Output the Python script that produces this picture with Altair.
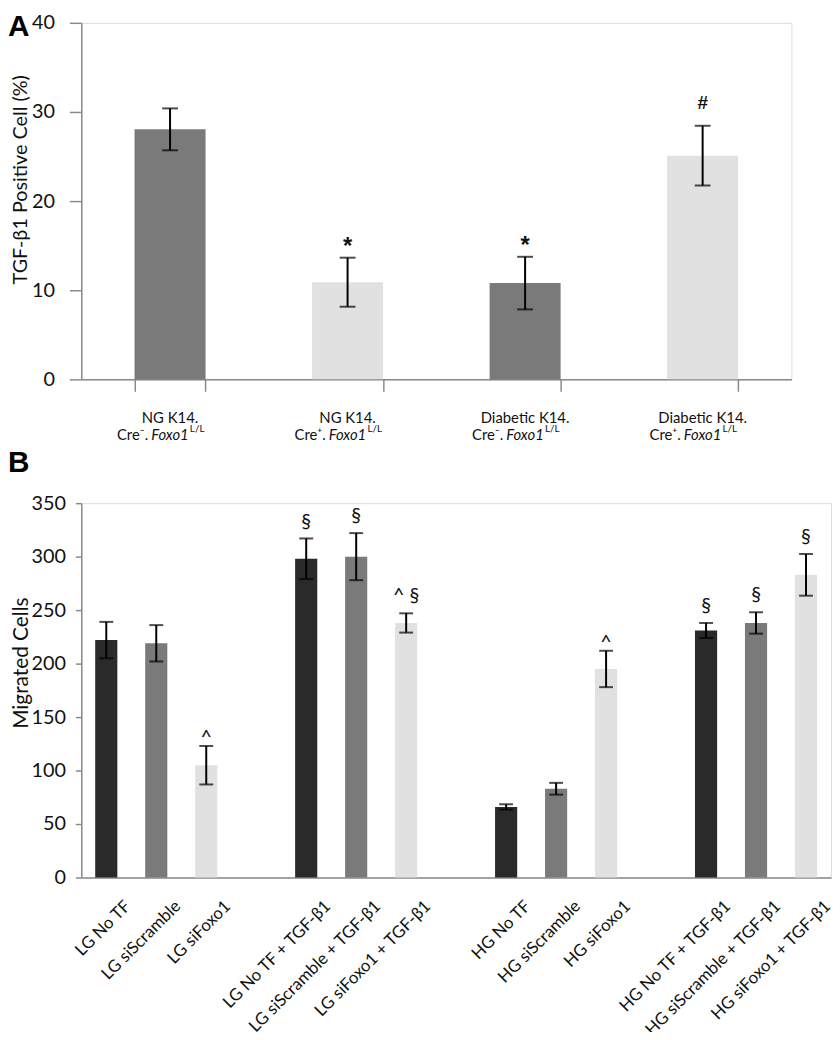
import altair as alt
import pandas as pd

# ---------------- Panel A data ----------------
a_groups = ["NG Cre-", "NG Cre+", "Diabetic Cre-", "Diabetic Cre+"]
a_line1 = ["NG K14.", "NG K14.", "Diabetic  K14.", "Diabetic  K14."]
a_cre = ["Cre\u207b.", "Cre\u207a.", "Cre\u207b.", "Cre\u207a."]
a_gene = ["Foxo1", "Foxo1", "Foxo1", "Foxo1"]
a_sup = ["L/L", "L/L", "L/L", "L/L"]
a_genotype = ["Cre-", "Cre+", "Cre-", "Cre+"]
a_values = [28.05, 10.9, 10.8, 25.1]
a_errors = [2.35, 2.75, 2.95, 3.35]
a_sig = ["", "*", "*", "#"]
a_ticks = [0, 10, 20, 30, 40]

# ---------------- Panel B data ----------------
b_cats = ["LG No TF", "LG siScramble", "LG siFoxo1",
          "LG No TF + TGF-\u03b21", "LG siScramble + TGF-\u03b21", "LG siFoxo1 + TGF-\u03b21",
          "HG No TF", "HG siScramble", "HG siFoxo1",
          "HG No TF + TGF-\u03b21", "HG siScramble + TGF-\u03b21", "HG siFoxo1 + TGF-\u03b21"]
b_treat = ["No TF", "siScramble", "siFoxo1"] * 4
b_values = [222, 219, 105, 298, 300, 238, 66, 83, 195, 231, 238, 283]
b_errors = [17, 17, 18, 19, 22, 9, 2.5, 5.5, 17, 7, 10, 19.5]
b_sig = ["", "", "^", "\u00a7", "\u00a7", "^ \u00a7", "", "", "^", "\u00a7", "\u00a7", "\u00a7"]
b_ticks = [0, 50, 100, 150, 200, 250, 300, 350]
b_spacers = [" ", "  ", "   "]
b_order = b_cats[0:3] + [b_spacers[0]] + b_cats[3:6] + [b_spacers[1]] + b_cats[6:9] + [b_spacers[2]] + b_cats[9:12]

dfA = pd.DataFrame({"group": a_groups, "line1": a_line1, "cre": a_cre, "gene": a_gene,
                    "sup": a_sup, "genotype": a_genotype, "value": a_values,
                    "err": a_errors, "sig": a_sig})
dfA["lo"] = dfA["value"] - dfA["err"]
dfA["hi"] = dfA["value"] + dfA["err"]

dfB = pd.DataFrame({"cat": b_cats, "treat": b_treat, "value": b_values,
                    "err": b_errors, "sig": b_sig})
dfB["lo"] = dfB["value"] - dfB["err"]
dfB["hi"] = dfB["value"] + dfB["err"]

FONT = "Lato"
AXC = "#8a8a8a"
TXT = "#111111"

# ---------------- Panel A ----------------
A_W, A_H = 717, 360
xA = alt.X("group:N", sort=a_groups,
           scale=alt.Scale(domain=a_groups, paddingInner=0.6, paddingOuter=0.3),
           axis=alt.Axis(labels=False, title=None, tickBand="extent", tickSize=12,
                         tickColor=AXC, domainColor=AXC, domainWidth=1.5, tickWidth=1.5))
yAxisA = alt.Axis(values=a_ticks, grid=False, tickSize=12, title="TGF-\u03b21 Positive Cell (%)",
                  labelFont=FONT, labelFontSize=20, labelColor=TXT, labelPadding=15,
                  titleFont=FONT, titleFontSize=20, titleFontWeight="normal", titleColor=TXT,
                  titleX=-51, titleY=158, tickColor=AXC, domainColor=AXC, domainWidth=1.5, tickWidth=1.5)
yScaleA = alt.Scale(domain=[0, 40])

baseA = alt.Chart(dfA)
barsA = baseA.mark_bar().encode(
    x=xA, y=alt.Y("value:Q", scale=yScaleA, axis=yAxisA),
    color=alt.Color("genotype:N", scale=alt.Scale(domain=["Cre-", "Cre+"], range=["#7a7a7a", "#e1e1e1"]),
                    legend=None))
ruleA = baseA.mark_rule(color="black", strokeWidth=2).encode(
    x=xA, y=alt.Y("lo:Q", axis=yAxisA, scale=yScaleA), y2="hi:Q")
capLoA = baseA.mark_tick(color="black", size=16, thickness=2).encode(
    x=xA, y=alt.Y("lo:Q", axis=yAxisA, scale=yScaleA))
capHiA = baseA.mark_tick(color="black", size=16, thickness=2).encode(
    x=xA, y=alt.Y("hi:Q", axis=yAxisA, scale=yScaleA))
starA = baseA.transform_filter(alt.datum.sig == "*").mark_text(
    font="Liberation Sans", fontSize=24, fontWeight="bold", dy=-4, baseline="alphabetic", color=TXT).encode(
    x=xA, y=alt.Y("hi:Q", axis=yAxisA, scale=yScaleA), text="sig:N")
hashA = baseA.transform_filter(alt.datum.sig == "#").mark_text(
    font="Liberation Sans", fontSize=19, fontWeight="bold", dy=-17, baseline="alphabetic", color=TXT).encode(
    x=xA, y=alt.Y("hi:Q", axis=yAxisA, scale=yScaleA), text="sig:N")
line1A = baseA.mark_text(font=FONT, fontSize=15, color=TXT, baseline="middle").encode(
    x=xA, y=alt.value(A_H + 39), text="line1:N")
creA = baseA.mark_text(font=FONT, fontSize=15, color=TXT, baseline="middle", align="right", dx=-22).encode(
    x=xA, y=alt.value(A_H + 56), text="cre:N")
geneA = baseA.mark_text(font=FONT, fontSize=15, fontStyle="italic", color=TXT, baseline="middle",
                        align="left", dx=-19).encode(
    x=xA, y=alt.value(A_H + 56), text="gene:N")
supA = baseA.mark_text(font=FONT, fontSize=10, color=TXT, baseline="middle", align="left", dx=20).encode(
    x=xA, y=alt.value(A_H + 50), text="sup:N")
labA = alt.Chart(pd.DataFrame({"t": ["A"]})).mark_text(
    font="Liberation Sans", fontSize=30, fontWeight="bold", align="left", baseline="alphabetic",
    color="black").encode(
    x=alt.value(-74), y=alt.value(13), text="t:N")

panelA = alt.layer(barsA, ruleA, capLoA, capHiA, starA, hashA, line1A, creA, geneA, supA, labA).properties(
    width=A_W, height=A_H)

# ---------------- Panel B ----------------
B_W, B_H = 757, 378
xB = alt.X("cat:N", sort=b_order,
           scale=alt.Scale(domain=b_order, paddingInner=0.557, paddingOuter=0.2785),
           axis=alt.Axis(title=None, ticks=False, labelAngle=-45, labelAlign="right", labelBaseline="middle",
                         labelFont=FONT, labelFontSize=17, labelColor=TXT, labelPadding=26, labelOffset=22,
                         labelOverlap=False, labelLimit=0, domainColor=AXC, domainWidth=1.5))
yAxisB = alt.Axis(values=b_ticks, grid=False, tickSize=6, title="Migrated Cells",
                  labelFont=FONT, labelFontSize=20, labelColor=TXT, labelPadding=10,
                  titleFont=FONT, titleFontSize=21, titleFontWeight="normal", titleColor=TXT,
                  titleX=-50, titleY=161, tickColor=AXC, domainColor=AXC, domainWidth=1.5, tickWidth=1.5)
yScaleB = alt.Scale(domain=[0, 350])

baseB = alt.Chart(dfB)
barsB = baseB.mark_bar().encode(
    x=xB, y=alt.Y("value:Q", scale=yScaleB, axis=yAxisB),
    color=alt.Color("treat:N", scale=alt.Scale(domain=["No TF", "siScramble", "siFoxo1"],
                                                range=["#2a2a2a", "#7a7a7a", "#e1e1e1"]), legend=None))
ruleB = baseB.mark_rule(color="black", strokeWidth=2).encode(
    x=xB, y=alt.Y("lo:Q", scale=yScaleB, axis=yAxisB), y2="hi:Q")
capLoB = baseB.mark_tick(color="black", size=14, thickness=2).encode(
    x=xB, y=alt.Y("lo:Q", scale=yScaleB, axis=yAxisB))
capHiB = baseB.mark_tick(color="black", size=14, thickness=2).encode(
    x=xB, y=alt.Y("hi:Q", scale=yScaleB, axis=yAxisB))
sectB = baseB.transform_filter(alt.FieldOneOfPredicate(field="sig", oneOf=["\u00a7", "^ \u00a7"])).mark_text(
    font=FONT, fontSize=20, color=TXT, dy=-11, baseline="alphabetic").encode(
    x=xB, y=alt.Y("hi:Q", scale=yScaleB, axis=yAxisB), text="sig:N")
caretB = baseB.transform_filter(alt.datum.sig == "^").mark_text(
    font=FONT, fontSize=20, color=TXT, dy=-2, baseline="alphabetic").encode(
    x=xB, y=alt.Y("hi:Q", scale=yScaleB, axis=yAxisB), text="sig:N")
labB = alt.Chart(pd.DataFrame({"t": ["B"]})).mark_text(
    font="Liberation Sans", fontSize=30, fontWeight="bold", align="left", baseline="alphabetic",
    color="black").encode(
    x=alt.value(-74), y=alt.value(-31), text="t:N")

panelB = alt.layer(barsB, ruleB, capLoB, capHiB, sectB, caretB, labB).properties(width=B_W, height=B_H)

chart = alt.vconcat(panelA, panelB, spacing=125, bounds="flush").resolve_scale(
    color="independent").properties(
    autosize=alt.AutoSizeParams(type="none"),
    padding={"left": 74, "top": 10, "right": 758, "bottom": 1014}
).configure_view(stroke=None).configure(background="white")

chart.save("out.html", embed_options={"renderer": "svg", "actions": False})
